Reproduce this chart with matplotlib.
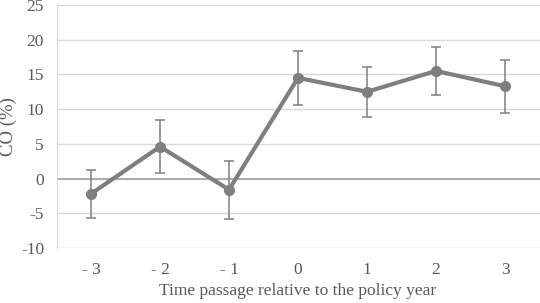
import matplotlib
matplotlib.use("Agg")
import matplotlib.pyplot as plt

# values
periods = ["- 3", "- 2", "- 1", "0", "1", "2", "3"]
co_values = [-2.2, 4.6, -1.6, 14.5, 12.5, 15.5, 13.3]
err_upper = [3.5, 3.9, 4.2, 3.9, 3.6, 3.5, 3.8]
err_lower = [3.5, 3.8, 4.2, 3.9, 3.6, 3.5, 3.8]

plt.rcParams['font.family'] = ['Liberation Serif', 'DejaVu Serif']
plt.rcParams['axes.unicode_minus'] = False
text_color = '#595959'
line_color = '#7f7f7f'

fig = plt.figure(figsize=(5.4, 3.03), dpi=100)
ax = fig.add_axes([56.5 / 540, 1 - 248 / 303, (539.5 - 56.5) / 540, 243 / 303])

x = list(range(len(periods)))
ax.errorbar(x, co_values, yerr=[err_lower, err_upper], color=line_color,
            linewidth=3, marker='o', markersize=7, ecolor=line_color,
            elinewidth=1.1, capsize=3.5, capthick=1.1, zorder=3)

ax.set_xlim(-0.5, len(periods) - 0.5)
ax.set_ylim(-10, 25)
ax.set_yticks(range(-10, 26, 5))
ax.set_xticks(x)
ax.set_xticklabels(periods)

# gridlines and darker zero line
ax.grid(axis='y', color='#d9d9d9', linewidth=1)
ax.axhline(0, color='#a6a6a6', linewidth=1.3, zorder=2)
ax.set_axisbelow(True)
for side in ['top', 'right', 'bottom']:
    ax.spines[side].set_visible(False)
ax.spines['left'].set_color('#d9d9d9')
ax.tick_params(length=0, labelsize=12.5, colors=text_color, pad=10)
ax.tick_params(axis='y', pad=9)

ax.set_xlabel("Time passage relative to the policy year", fontsize=12.5,
              color=text_color)
ax.xaxis.set_label_coords(0.5, -35 / 243)
ax.set_ylabel("CO (%)", fontsize=13.5, color=text_color)
ax.yaxis.set_label_coords(-39 / 483, 0.5)

fig.savefig("out.png", dpi=100)
